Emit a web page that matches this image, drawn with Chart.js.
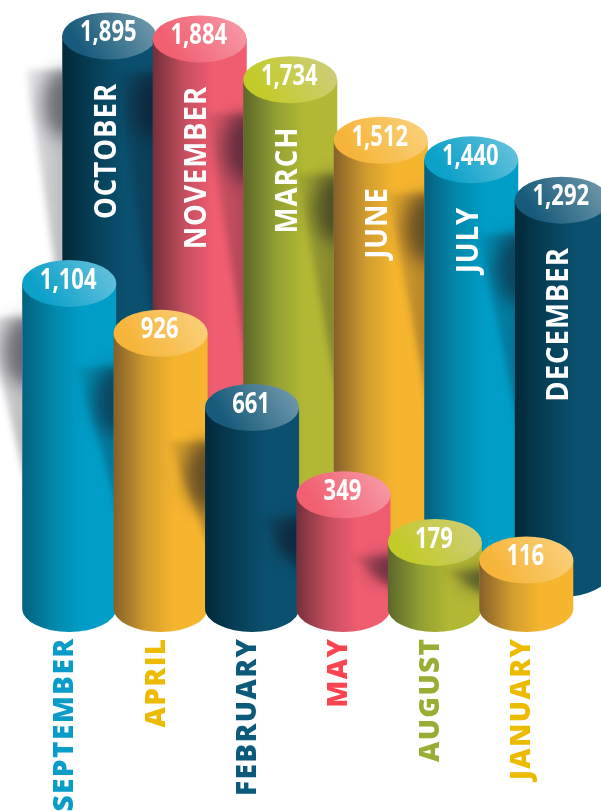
<!DOCTYPE html>
<html>
<head>
<meta charset="utf-8">
<style>
  html, body { margin: 0; padding: 0; background: #fff; overflow: hidden; width: 601px; height: 811px; }
  canvas { position: absolute; left: 0; top: 0; }
</style>
<script src="https://cdn.jsdelivr.net/npm/chart.js@4"></script>
</head>
<body>
<canvas id="backChart" width="640" height="811"></canvas>
<canvas id="frontChart" width="640" height="811"></canvas>
<script>
var backMonths = ['OCTOBER', 'NOVEMBER', 'MARCH', 'JUNE', 'JULY', 'DECEMBER'];
var backValues = [1895, 1884, 1734, 1512, 1440, 1292];
var backTones = ['navy', 'pink', 'olive', 'orange', 'teal', 'navy'];

var frontMonths = ['SEPTEMBER', 'APRIL', 'FEBRUARY', 'MAY', 'AUGUST', 'JANUARY'];
var frontValues = [1104, 926, 661, 349, 179, 116];
var frontTones = ['teal', 'orange', 'navy', 'pink', 'olive', 'orange'];

var palette = {
    teal:   { dark: '#05607d', mid: '#0189ad', light: '#009dc6', capA: '#0ba1c9', capB: '#64c1dc', label: '#0a9cc8' },
    navy:   { dark: '#02293a', mid: '#064058', light: '#0b506f', capA: '#185a7b', capB: '#6e98aa', label: '#0b5a7a' },
    pink:   { dark: '#74303b', mid: '#c64f5f', light: '#f05d70', capA: '#f15f70', capB: '#f798a5', label: '#fb4352' },
    olive:  { dark: '#5c672b', mid: '#93a032', light: '#b2b734', capA: '#c3cb2a', capB: '#cdcd78', label: '#99ac33' },
    orange: { dark: '#85602a', mid: '#d29d2e', light: '#f6b52e', capA: '#f6b53a', capB: '#facf79', label: '#ecbb00' }
};

function drawText(ctx, text, x, y, vertical, squeeze, align) {
    ctx.save();
    ctx.translate(x, y);
    if (vertical) ctx.rotate(-Math.PI / 2);
    ctx.scale(squeeze, 1);
    ctx.textAlign = align;
    ctx.textBaseline = 'middle';
    ctx.fillText(text, 0, 0);
    ctx.restore();
}

function drawShadow(ctx, left, top, base) {
    var height = base - top;
    var start = top + Math.min(34, height * 0.2);
    var end = start + height * 0.62;
    var blob = Math.min(34, (end - start) * 0.3);
    ctx.save();
    ctx.beginPath();
    ctx.rect(left - 70, 0, 70, 811);
    ctx.clip();

    // faixa clara que desce ate sumir
    ctx.filter = 'blur(3px)';
    var g = ctx.createLinearGradient(left - 38, 0, left, 0);
    g.addColorStop(0, 'rgba(16,16,32,0.08)');
    g.addColorStop(1, 'rgba(16,16,32,0.28)');
    ctx.fillStyle = g;
    ctx.beginPath();
    ctx.moveTo(left - 36, start);
    ctx.lineTo(left + 12, start);
    ctx.lineTo(left + 12, end);
    ctx.quadraticCurveTo(left - 14, start + (end - start) * 0.45, left - 36, start);
    ctx.fill();

    // parte escura junto da proxima barra
    ctx.filter = 'blur(9px)';
    ctx.fillStyle = 'rgba(16,16,32,0.48)';
    ctx.beginPath();
    ctx.ellipse(left + 2, start + blob, 22, blob, 0, 0, Math.PI * 2);
    ctx.fill();
    ctx.restore();
}

function drawCylinder(ctx, bar, tone) {
    var rx = bar.width / 2;
    var ry = 23.5;
    var left = bar.x - rx;
    var right = bar.x + rx;

    drawShadow(ctx, left, bar.y, bar.base);

    var body = ctx.createLinearGradient(left, 0, right, 0);
    body.addColorStop(0, tone.dark);
    body.addColorStop(0.35, tone.mid);
    body.addColorStop(0.65, tone.light);
    body.addColorStop(1, tone.light);
    ctx.fillStyle = body;
    ctx.beginPath();
    ctx.moveTo(left, bar.y);
    ctx.lineTo(left, bar.base);
    ctx.ellipse(bar.x, bar.base, rx, ry, 0, Math.PI, 0, true);
    ctx.lineTo(right, bar.y);
    ctx.closePath();
    ctx.fill();

    var cap = ctx.createLinearGradient(left + 10, bar.y + ry, right - 10, bar.y - ry);
    cap.addColorStop(0.15, tone.capA);
    cap.addColorStop(1, tone.capB);
    ctx.fillStyle = cap;
    ctx.beginPath();
    ctx.ellipse(bar.x, bar.y, rx, ry, 0, 0, Math.PI * 2);
    ctx.fill();
}

// dibuja as barras como cilindros usando as posicoes calculadas pelo Chart.js
var cylinderPlugin = {
    id: 'cylinders',
    beforeDraw: function (chart) {
        chart.ctx.letterSpacing = '1.4px'; // rotulos do eixo x
    },
    beforeDatasetDraw: function (chart, args) {
        var ctx = chart.ctx;
        var tones = chart.config.options.plugins.cylinders.tones;
        var names = chart.config.options.plugins.cylinders.names;
        var values = chart.data.datasets[0].data;
        args.meta.data.forEach(function (bar, i) {
            drawCylinder(ctx, bar, palette[tones[i]]);
            ctx.fillStyle = '#fff';
            ctx.letterSpacing = '0px';
            ctx.font = 'bold 29px "Open Sans"';
            drawText(ctx, values[i].toLocaleString('en-US'), bar.x - 1, bar.y - 3, false, 0.76, 'center');
            if (names) {
                ctx.font = 'bold 30px "Open Sans"';
                ctx.letterSpacing = '1px';
                drawText(ctx, names[i], bar.x - 2, bar.y + 47, true, 0.92, 'right');
                ctx.letterSpacing = '0px';
            }
        });
        return false;
    }
};

function makeChart(id, labels, values, tones, names, yMin, yMax, height, padLeft, padRight, showTicks) {
    return new Chart(document.getElementById(id), {
        type: 'bar',
        plugins: [cylinderPlugin],
        data: {
            labels: labels,
            datasets: [{ data: values, base: yMin, barThickness: 94 }]
        },
        options: {
            responsive: false,
            animation: false,
            layout: { padding: { left: padLeft, right: padRight, top: 0, bottom: 0 } },
            plugins: {
                legend: { display: false },
                tooltip: { enabled: false },
                cylinders: { tones: tones, names: names }
            },
            scales: {
                y: { display: false, min: yMin, max: yMax },
                x: {
                    display: showTicks,
                    offset: true,
                    grid: { display: false },
                    border: { display: false },
                    afterFit: function (scale) { scale.height = 811 - height; },
                    ticks: {
                        autoSkip: false,
                        minRotation: 90,
                        maxRotation: 90,
                        padding: 21,
                        labelOffset: -4,
                        font: { family: '"Open Sans"', weight: '800', size: 28 },
                        color: function (c) { return palette[tones[c.index]].label; }
                    }
                }
            }
        }
    });
}

makeChart('backChart', backMonths, backValues, backTones, backMonths, -79, 2027, 573.5, 64, 33, false);
makeChart('frontChart', frontMonths, frontValues, frontTones, null, -57, 2116, 608.5, 23.5, 68, true);
</script>
</body>
</html>
